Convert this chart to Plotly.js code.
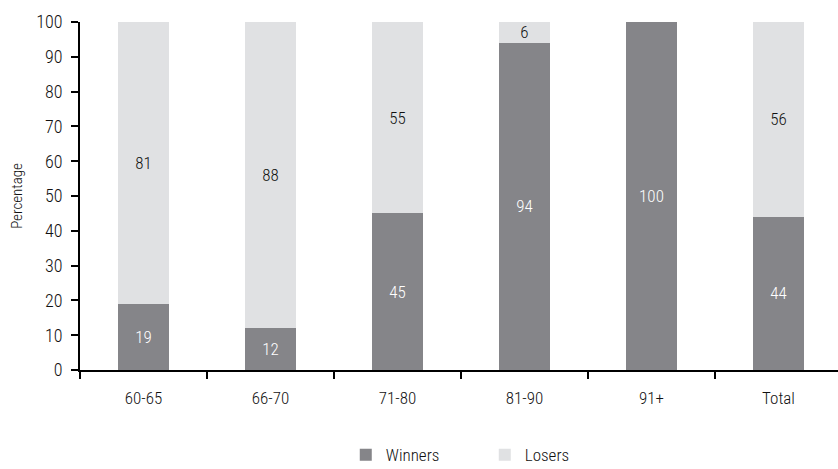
<!DOCTYPE html>
<html>
<head>
<meta charset="utf-8">
<script src="https://cdn.plot.ly/plotly-3.0.1.min.js"></script>
<style>
  html, body { margin: 0; padding: 0; background: #fff; }
  #chart { width: 838px; height: 469px; }
</style>
</head>
<body>
<div id="chart"></div>
<script>
// Share of winners and losers by age group (percent)
const categories = ['60-65', '66-70', '71-80', '81-90', '91+', 'Total'];
const winners = [19, 12, 45, 94, 100, 44];
const losers = [81, 88, 55, 6, 0, 56];
const yTicks = [0, 10, 20, 30, 40, 50, 60, 70, 80, 90, 100];

const FONT = '"Roboto Condensed", Roboto, sans-serif';
const W = 300;
const DARK = '#858589';
const LIGHT = '#e0e1e3';

const labelOf = v => (v > 0 ? String(v) : '');

const traces = [
  {
    type: 'bar',
    name: 'Winners',
    x: categories,
    y: winners,
    text: winners.map(labelOf),
    textposition: 'inside',
    insidetextanchor: 'middle',
    textangle: 0,
    textfont: { family: FONT, size: 17, weight: W, color: '#ffffff' },
    marker: { color: DARK },
    width: 0.4,
    hoverinfo: 'none'
  },
  {
    type: 'bar',
    name: 'Losers',
    x: categories,
    y: losers,
    text: losers.map(labelOf),
    textposition: 'inside',
    insidetextanchor: 'middle',
    textangle: 0,
    textfont: { family: FONT, size: 17, weight: W, color: '#111111' },
    marker: { color: LIGHT },
    width: 0.4,
    hoverinfo: 'none'
  }
];

const layout = {
  width: 838,
  height: 469,
  barmode: 'stack',
  margin: { l: 80, r: 0, t: 22, b: 99, autoexpand: false },
  paper_bgcolor: '#ffffff',
  plot_bgcolor: '#ffffff',
  font: { family: FONT, size: 17, weight: W, color: '#111111' },
  uniformtext: { mode: 'show', minsize: 17 },
  showlegend: true,
  legend: {
    orientation: 'h',
    traceorder: 'normal',
    x: 0.534,
    xanchor: 'center',
    y: -0.245,
    yanchor: 'middle',
    font: { family: FONT, size: 17, weight: W, color: '#111111' },
    itemwidth: 30,
    entrywidth: 94,
    entrywidthmode: 'pixels'
  },
  xaxis: {
    type: 'category',
    range: [-0.5, 5.4685],
    automargin: false,
    showline: true,
    linecolor: '#000000',
    linewidth: 2,
    ticks: 'outside',
    tickson: 'boundaries',
    ticklen: 7,
    tickwidth: 2,
    tickcolor: '#000000',
    ticklabelstandoff: 12,
    showgrid: false,
    zeroline: false,
    fixedrange: true,
    tickfont: { family: FONT, size: 17, weight: W, color: '#111111' }
  },
  yaxis: {
    range: [0, 100],
    automargin: false,
    tickvals: yTicks,
    ticktext: yTicks.map(String),
    showline: true,
    linecolor: '#000000',
    linewidth: 2,
    ticks: 'outside',
    ticklen: 7,
    tickwidth: 2,
    tickcolor: '#000000',
    ticklabelstandoff: 5,
    showgrid: false,
    zeroline: false,
    fixedrange: true,
    tickfont: { family: FONT, size: 18, weight: W, color: '#111111' },
    title: { text: 'Percentage', font: { family: FONT, size: 15, weight: W, color: '#111111' }, standoff: 10 }
  }
};

Plotly.newPlot('chart', traces, layout, { staticPlot: true, displayModeBar: false });
</script>
</body>
</html>
